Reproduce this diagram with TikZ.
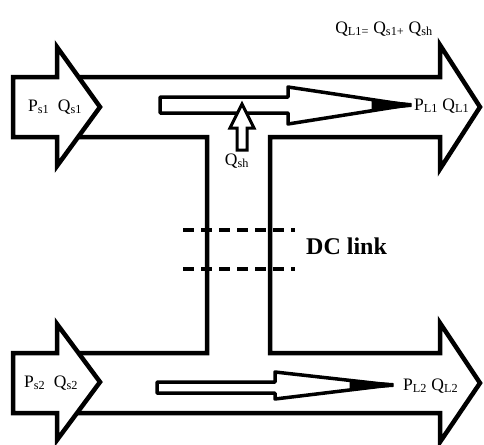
\documentclass[tikz,border=0pt]{standalone}
\usepackage{fontspec}
\setmainfont{Liberation Serif}
\begin{document}
\begin{tikzpicture}[x=1pt,y=-1pt,
  outline/.style={draw=black,line width=4.5pt,line join=miter,fill=white},
  inner/.style={draw=black,line width=3.5pt,line join=round,fill=white},
  tipfill/.style={fill=black,draw=black,line width=1pt,line join=round},
  lbl/.style={inner sep=0pt,font=\fontsize{17.5}{20}\selectfont},
  dcdash/.style={draw=black,line width=4.5pt,dash pattern=on 11pt off 7pt}]
\useasboundingbox (0,0) rectangle (484,444);
% H-shaped main outline (two big arrows joined by DC link channel)
\path[outline] (57,77) -- (440,77) -- (440,45) -- (480,107) -- (440,169) -- (440,137)
  -- (270,137) -- (270,353) -- (440,353) -- (440,323) -- (480,383) -- (440,442)
  -- (440,413) -- (57,413) -- (57,353) -- (207,353) -- (207,137) -- (57,137) -- cycle;
% source arrows
\path[outline] (13,77) -- (57,77) -- (57,47) -- (100,107) -- (57,166) -- (57,137) -- (13,137) -- cycle;
\path[outline] (13,353) -- (57,353) -- (57,324) -- (100,382) -- (57,440) -- (57,413) -- (13,413) -- cycle;
% inner arrows
\path[inner] (160,97) -- (288,97) -- (288,87) -- (408,105) -- (288,124) -- (288,113) -- (160,113) -- cycle;
\path[tipfill] (372,100) -- (411,103.5) -- (411,106.5) -- (372,110) -- cycle;
\path[inner] (157,382) -- (275,382) -- (275,372) -- (391,385) -- (275,399) -- (275,393) -- (157,393) -- cycle;
\path[tipfill] (350,381) -- (393,383.5) -- (393,386.5) -- (350,389) -- cycle;
% shunt arrow Qsh
\path[draw=black,line width=3pt,fill=white,line join=miter] (237,150) -- (237,128) -- (230,128) -- (242,104)
  -- (254,128) -- (247,128) -- (247,150) -- cycle;
% DC link dashes
\draw[dcdash] (183,230) -- (295,230);
\draw[dcdash] (183,269) -- (295,269);
% labels
\node[lbl] (ps1) at (55,107) {P\textsubscript{s1}\ \ Q\textsubscript{s1}};
\node[lbl] (ps2) at (51,383) {P\textsubscript{s2}\ \ Q\textsubscript{s2}};
\node[lbl,anchor=west] (pl1) at (414,106) {P\textsubscript{L1} Q\textsubscript{L1}};
\node[lbl,anchor=west] (pl2) at (403,386) {P\textsubscript{L2} Q\textsubscript{L2}};
\node[lbl] (qeq) at (384,29) {Q\textsubscript{L1=} Q\textsubscript{s1+} Q\textsubscript{sh}};
\node[lbl] (qsh) at (237,161) {Q\textsubscript{sh}};
\node[inner sep=0pt,anchor=west,font=\fontsize{24}{28}\selectfont\bfseries] (dc) at (306,246) {DC link};
\end{tikzpicture}
\end{document}
